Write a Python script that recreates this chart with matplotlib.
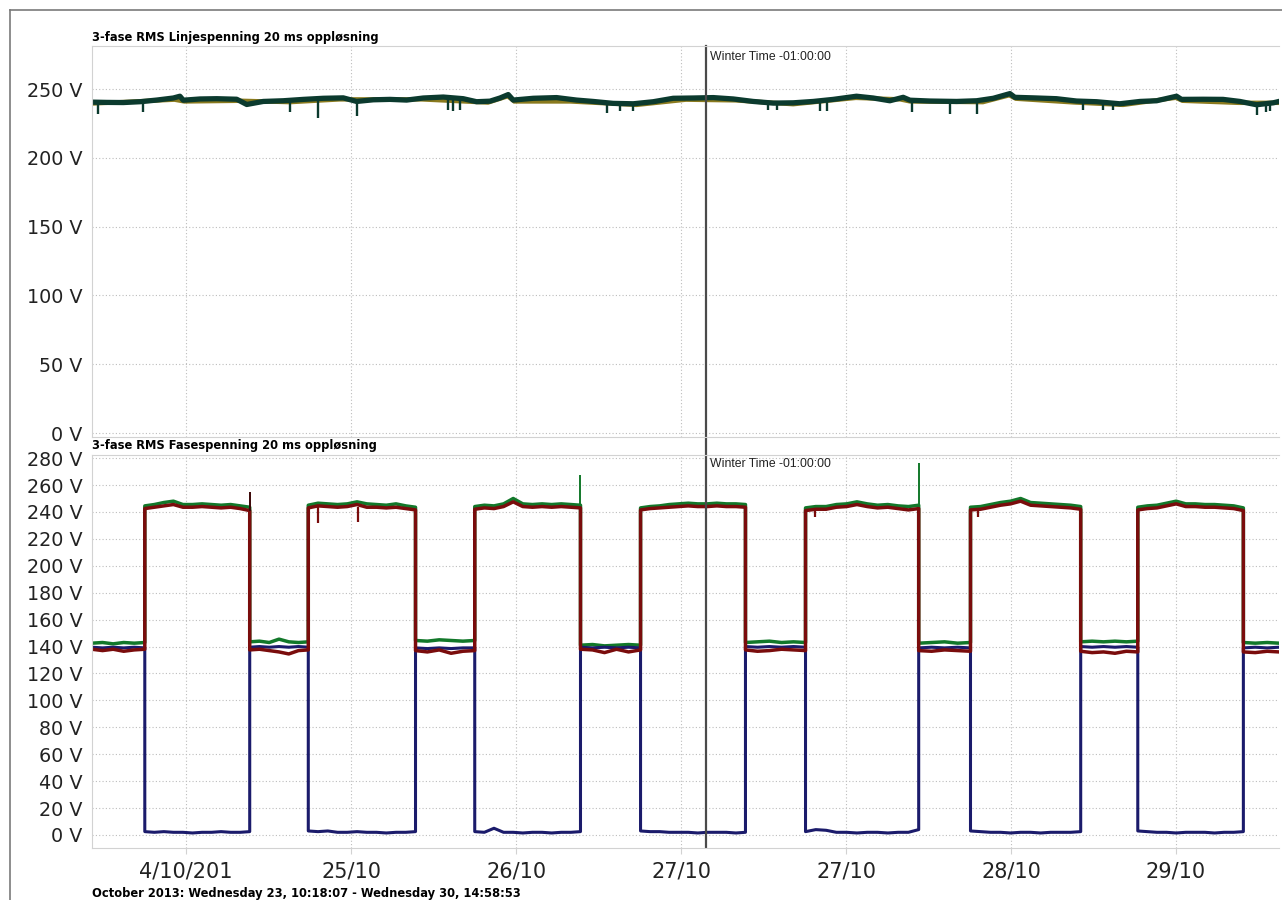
import numpy as np
import matplotlib
matplotlib.use("Agg")
import matplotlib.pyplot as plt
from matplotlib.lines import Line2D

# time axis: days since 23 Oct 2013 10:18:07
t_end = 7.195
day_ticks = [0.571, 1.571, 2.571, 3.571, 4.571, 5.571, 6.571]
day_labels = ["4/10/201", "25/10", "26/10", "27/10", "27/10", "28/10", "29/10"]
winter_t = 3.72

# --- line voltage (upper panel) ---
line_t = [0.0, 0.089, 0.19, 0.291, 0.392, 0.493, 0.533, 0.553, 0.655, 0.756, 0.877, 0.938,
          1.038, 1.159, 1.281, 1.402, 1.523, 1.604, 1.705, 1.806, 1.907, 2.008, 2.129, 2.25,
          2.331, 2.412, 2.473, 2.523, 2.553, 2.675, 2.816, 2.937, 3.038, 3.159, 3.281, 3.402,
          3.523, 3.644, 3.766, 3.887, 4.008, 4.129, 4.25, 4.372, 4.493, 4.634, 4.735, 4.836,
          4.917, 4.958, 5.079, 5.241, 5.362, 5.463, 5.564, 5.594, 5.705, 5.846, 5.968, 6.089,
          6.23, 6.352, 6.453, 6.574, 6.604, 6.735, 6.856, 6.958, 7.059, 7.16, 7.195]
line_v = [240.5, 240.3, 240.2, 240.8, 242.0, 243.5, 244.8, 241.9, 242.8, 243.0, 242.6, 238.8,
          241.0, 241.5, 242.5, 243.3, 243.6, 241.0, 242.2, 242.5, 242.0, 243.5, 244.2, 243.0,
          240.8, 241.2, 243.5, 246.0, 242.0, 243.3, 243.8, 242.0, 241.0, 239.6, 239.3, 240.8,
          243.3, 243.5, 243.8, 242.8, 241.0, 239.8, 240.0, 241.0, 242.5, 244.8, 243.5, 241.5,
          244.0, 241.9, 241.3, 241.0, 241.5, 243.3, 246.7, 244.0, 243.6, 243.0, 241.3, 240.8,
          239.3, 241.0, 241.5, 244.8, 242.5, 242.6, 242.5, 241.0, 238.6, 240.0, 241.0]
# second line voltage, visible as an olive fringe under the main trace
line2_t = [0.0, 0.5, 0.56, 0.9, 1.2, 1.5, 2.0, 2.4, 2.52, 2.56, 2.9, 3.3, 3.6, 3.9, 4.25,
           4.63, 4.9, 4.96, 5.4, 5.56, 5.6, 5.95, 6.25, 6.57, 6.61, 6.95, 7.195]
line2_v = [239.5, 242.3, 241.0, 241.5, 240.5, 242.5, 242.5, 240.2, 244.8, 241.0, 241.0, 238.5,
           242.3, 241.8, 239.0, 243.6, 242.5, 241.0, 240.5, 245.5, 243.0, 240.3, 238.5, 243.7,
           241.5, 240.0, 240.0]
line_dip_t = [0.038, 0.311, 1.2, 1.372, 1.604, 2.159, 2.19, 2.23, 3.119, 3.2, 3.281, 4.099,
              4.15, 4.412, 4.453, 4.968, 5.2, 5.362, 6.008, 6.129, 6.19, 7.059, 7.119, 7.139]
line_dip_v = [231.8, 233.0, 233.0, 229.0, 230.5, 235.0, 234.0, 235.0, 232.5, 234.0, 234.0,
              234.5, 235.0, 234.0, 234.0, 233.0, 232.0, 232.0, 235.0, 235.0, 235.0, 231.5,
              233.0, 234.0]

# --- phase voltage (lower panel) ---
edges = [0.0, 0.320, 0.956, 1.311, 1.961, 2.320, 2.961, 3.325, 3.961, 4.325, 5.011,
         5.325, 5.993, 6.339, 6.979, 7.195]

green = [
    [142.5, 143, 142, 143, 142.5, 143],
    [244.5, 245.5, 247, 248, 245.5, 245.5, 246, 245.5, 245, 245.5, 244.5, 243.5],
    [143.5, 144, 143, 145.5, 143.5, 143, 143.5],
    [245, 246.5, 246, 245.5, 246, 247.5, 246, 245.5, 245, 246, 244.5, 243.5],
    [144.5, 144, 145, 144.5, 144, 144.5],
    [244, 245, 244.5, 246, 250, 246, 245.5, 246, 245.5, 246, 245.5, 245],
    [141, 141.5, 140.5, 141, 141.5, 141],
    [243, 244, 244.5, 245.5, 246, 246.5, 246, 246, 246.5, 246, 246, 245.5],
    [143, 143.5, 144, 143, 143.5, 143],
    [243, 244, 244, 245.5, 246, 247.5, 246, 245, 245.5, 244.5, 244, 245],
    [142.5, 143, 143.5, 142.5, 143],
    [243.5, 244, 245.5, 247, 248, 250, 247, 246.5, 246, 245.5, 245, 244],
    [143.5, 144, 143.5, 144, 143.5, 144],
    [243.5, 244.5, 245, 246.5, 248, 246, 246, 245.5, 245.5, 245, 244.5, 243],
    [143, 142.5, 143, 142.5],
]
red = [
    [138, 137, 138, 136.5, 137.5, 138],
    [242.5, 243.5, 244.5, 245.5, 243.5, 243.5, 244, 243.5, 243, 243.5, 242.5, 241],
    [137.5, 138, 137, 136, 134.5, 137, 137.5],
    [243, 244.5, 244, 243.5, 244, 245.5, 243.5, 243.5, 243, 243.5, 242.5, 241.5],
    [137, 136, 137.5, 135, 136.5, 137],
    [242, 243, 242.5, 244, 247.5, 244, 243.5, 244, 243.5, 244, 243.5, 243],
    [138, 137.5, 135.5, 138, 136, 137.5],
    [241.5, 242.5, 243, 243.5, 244, 244.5, 244, 244, 244.5, 244, 244, 243.5],
    [137.5, 136.5, 137, 138, 137.5, 137],
    [241, 242, 242, 243.5, 244, 245.5, 244, 243, 243.5, 242.5, 241.5, 242.5],
    [137, 136.5, 137.5, 137, 136.5],
    [241.5, 242, 243.5, 245, 246, 248, 245, 244.5, 244, 243.5, 243, 242],
    [136.5, 135.5, 136, 135, 136.5, 136],
    [241.5, 242.5, 243, 244.5, 246, 244, 244, 243.5, 243.5, 243, 242.5, 241],
    [136, 135.5, 136.5, 136],
]
blue = [
    [139.5, 139, 139.5, 139, 139.5, 139],
    [2.5, 2, 2.5, 2, 2, 1.5, 2, 2, 2.5, 2, 2, 2.5],
    [139.5, 140, 139.5, 140, 139.5, 140, 139.5],
    [3, 2.5, 3, 2, 2, 2.5, 2, 2, 1.5, 2, 2, 2.5],
    [139, 138.5, 139, 138.5, 139, 139],
    [2.5, 2, 5, 2, 2, 1.5, 2, 2, 1.5, 2, 2, 2.5],
    [139.5, 139, 139.5, 139, 139.5, 139],
    [3, 2.5, 2.5, 2, 2, 2, 1.5, 2, 2, 2, 1.5, 2],
    [140, 139.5, 140, 139.5, 140, 139.5],
    [2.5, 4, 3.5, 2, 2, 1.5, 2, 2, 1.5, 2, 2, 4],
    [139, 139.5, 139, 139.5, 139],
    [3, 2.5, 2, 2, 1.5, 2, 2, 1.5, 2, 2, 2, 2.5],
    [140, 139.5, 140, 139.5, 140, 139.5],
    [3, 2.5, 2, 2, 1.5, 2, 2, 2, 1.5, 2, 2, 2.5],
    [139, 139.5, 139, 139.5],
]
# short transients at switching edges: (time, from, to, phase)
spikes = [(0.956, 241, 254.5, "red"), (2.961, 245, 267.5, "green"), (5.011, 245, 276.5, "green")]
red_dips = [(1.37, 243.5, 231.8), (1.61, 244.0, 232.5), (4.38, 242.0, 236.0), (5.37, 242.0, 236.5)]

top_yticks = [0, 50, 100, 150, 200, 250]
bot_yticks = list(range(0, 281, 20))

C_GREEN = "#12782a"
C_RED = "#7a0c0c"
C_BLUE = "#1b1b6b"
C_TEAL = "#0b3a2e"
C_OLIVE = "#8a7a1e"
C_GRID = "#bdbdbd"
C_SPINE = "#d2d2d2"


def stitch(segments):
    ts, vs = [], []
    for i, vals in enumerate(segments):
        ts.append(np.linspace(edges[i], edges[i + 1], len(vals)))
        vs.append(np.asarray(vals, dtype=float))
    return np.concatenate(ts), np.concatenate(vs)


W, H = 1282, 900
fig = plt.figure(figsize=(W / 100, H / 100), dpi=100)
ax1 = fig.add_axes([92 / W, 1 - 437 / H, (1279 - 92) / W, (437 - 46) / H])
ax2 = fig.add_axes([92 / W, 1 - 848 / H, (1279 - 92) / W, (848 - 455) / H])

for ax in (ax1, ax2):
    ax.set_xlim(0, t_end)
    ax.set_xticks(day_ticks)
    ax.grid(True, color=C_GRID, lw=0.8, ls=(0, (1, 2)))
    ax.set_axisbelow(True)
    ax.spines["right"].set_visible(False)
    for s in ("left", "top", "bottom"):
        ax.spines[s].set_color(C_SPINE)
    ax.tick_params(axis="y", length=0, pad=7, labelsize=13.8, labelcolor="#222222")

# upper panel
ax1.set_ylim(-2.9, 281.3)
ax1.set_yticks(top_yticks)
ax1.set_yticklabels([f"{v} V" for v in top_yticks])
ax1.tick_params(axis="x", length=0, labelbottom=False)
ax1.plot(line2_t, line2_v, color=C_OLIVE, lw=3.2, solid_joinstyle="miter")
ax1.plot(line_t, line_v, color=C_TEAL, lw=3.8)
dip_top = np.interp(line_dip_t, line_t, line_v)
ax1.vlines(line_dip_t, line_dip_v, dip_top, color=C_TEAL, lw=1.7)

# lower panel
ax2.set_ylim(-9.66, 282.3)
ax2.set_yticks(bot_yticks)
ax2.set_yticklabels([f"{v} V" for v in bot_yticks])
ax2.set_xticklabels(day_labels)
ax2.tick_params(axis="x", length=4, color=C_SPINE, pad=6, labelsize=15, labelcolor="#222222")

gt, gv = stitch(green)
bt, bv = stitch(blue)
rt, rv = stitch(red)
ax2.plot(gt, gv, color=C_GREEN, lw=2.5)
ax2.plot(bt, bv, color=C_BLUE, lw=2.2)
ax2.plot(rt, rv, color=C_RED, lw=2.5)
for t, v0, v1, ph in spikes:
    ax2.vlines(t, v0, v1, color=C_GREEN if ph == "green" else "#3a0606", lw=1.4)
for t, v0, v1 in red_dips:
    ax2.vlines(t, v1, v0, color=C_RED, lw=1.6)

# daylight saving change marker
ax1.axvline(winter_t, ymin=-0.05, ymax=1, color="#4a4a4a", lw=1.6, clip_on=False)
ax2.axvline(winter_t, color="#4a4a4a", lw=1.6)
for ax, yy in ((ax1, 0.972), (ax2, 0.977)):
    ax.annotate("Winter Time -01:00:00", xy=(winter_t, yy), xycoords=("data", "axes fraction"),
                xytext=(3, 0), textcoords="offset points", ha="left", va="center",
                fontsize=8.8, family="Liberation Sans", color="#222222")

# panel captions and time span
fig.text(92 / W, 1 - 37 / H, "3-fase RMS Linjespenning 20 ms oppløsning",
         fontsize=8.3, fontweight="bold", ha="left", va="center")
fig.text(92 / W, 1 - 445 / H, "3-fase RMS Fasespenning 20 ms oppløsning",
         fontsize=8.3, fontweight="bold", ha="left", va="center")
fig.text(92 / W, 1 - 893 / H, "October 2013: Wednesday 23, 10:18:07 - Wednesday 30, 14:58:53",
         fontsize=8.3, fontweight="bold", ha="left", va="center")

# outer window frame
fig.add_artist(Line2D([10 / W, 10 / W], [0, 1 - 10 / H], transform=fig.transFigure,
                      color="#7a7a7a", lw=1.2))
fig.add_artist(Line2D([10 / W, 1], [1 - 10 / H, 1 - 10 / H], transform=fig.transFigure,
                      color="#7a7a7a", lw=1.2))

fig.savefig("out.png", dpi=100)
